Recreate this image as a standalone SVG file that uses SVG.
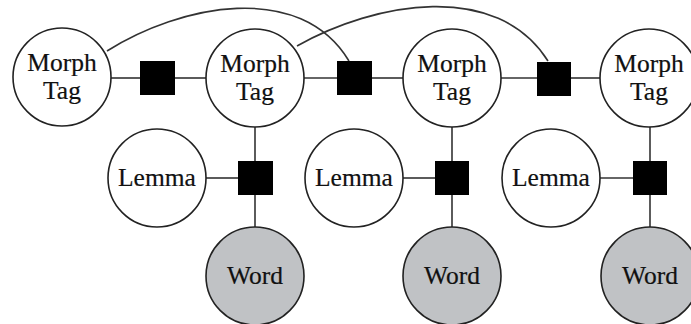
<svg xmlns="http://www.w3.org/2000/svg" width="691" height="324" viewBox="0 0 691 324">
  <style>
    .var { fill: #ffffff; stroke: #222; stroke-width: 1.6; }
    .obs { fill: #c0c2c5; stroke: #222; stroke-width: 1.6; }
    .fac { fill: #000; }
    .edge { fill: none; stroke: #333; stroke-width: 1.6; }
    text { font-family: "Liberation Serif", "Times New Roman", serif; font-size: 25.5px; fill: #111; text-anchor: middle; stroke: #111; stroke-width: 0.2; }
  </style>
  <rect width="691" height="324" fill="#fff"/>

  <!-- connectors -->
  <g id="edges">
    <!-- chain between tag variables -->
    <line class="edge" x1="111" y1="78" x2="140" y2="78"/>
    <line class="edge" x1="175" y1="78" x2="206" y2="78"/>
    <line class="edge" x1="304" y1="78" x2="337" y2="78"/>
    <line class="edge" x1="372" y1="78" x2="403" y2="78"/>
    <line class="edge" x1="501" y1="78" x2="537" y2="78"/>
    <line class="edge" x1="571" y1="78" x2="600" y2="78"/>
    <!-- second-order arcs -->
    <path class="edge" d="M107,51 C180,5 300,-20 349,61"/>
    <path class="edge" d="M297,46 C375,2 497,-20 548,61"/>
    <!-- column 1 -->
    <line class="edge" x1="255" y1="127" x2="255" y2="227"/>
    <line class="edge" x1="206" y1="178" x2="238" y2="178"/>
    <!-- column 2 -->
    <line class="edge" x1="452" y1="127" x2="452" y2="227"/>
    <line class="edge" x1="403" y1="178" x2="435" y2="178"/>
    <!-- column 3 -->
    <line class="edge" x1="650" y1="127" x2="650" y2="227"/>
    <line class="edge" x1="600" y1="178" x2="633" y2="178"/>
  </g>

  <!-- factors -->
  <g id="f-tag-1"><rect class="fac" x="140" y="61" width="35" height="34"/></g>
  <g id="f-tag-2"><rect class="fac" x="337" y="61" width="35" height="34"/></g>
  <g id="f-tag-3"><rect class="fac" x="537" y="62" width="34" height="34"/></g>
  <g id="f-word-1"><rect class="fac" x="238" y="161" width="35" height="34"/></g>
  <g id="f-word-2"><rect class="fac" x="435" y="161" width="34" height="34"/></g>
  <g id="f-word-3"><rect class="fac" x="633" y="161" width="34" height="34"/></g>

  <!-- tag variables -->
  <g id="tag-0">
    <circle class="var" cx="62" cy="77" r="49"/>
    <text x="62" y="71">Morph</text>
    <text x="62" y="99">Tag</text>
  </g>
  <g id="tag-1">
    <circle class="var" cx="255" cy="78" r="49"/>
    <text x="255" y="72">Morph</text>
    <text x="255" y="100">Tag</text>
  </g>
  <g id="tag-2">
    <circle class="var" cx="452" cy="78" r="49"/>
    <text x="452" y="72">Morph</text>
    <text x="452" y="100">Tag</text>
  </g>
  <g id="tag-3">
    <circle class="var" cx="649" cy="78" r="49"/>
    <text x="649" y="72">Morph</text>
    <text x="649" y="100">Tag</text>
  </g>

  <!-- lemma variables -->
  <g id="lemma-1">
    <circle class="var" cx="157" cy="178" r="49"/>
    <text x="157" y="186">Lemma</text>
  </g>
  <g id="lemma-2">
    <circle class="var" cx="354" cy="178" r="49"/>
    <text x="354" y="186">Lemma</text>
  </g>
  <g id="lemma-3">
    <circle class="var" cx="551" cy="178" r="49"/>
    <text x="551" y="186">Lemma</text>
  </g>

  <!-- observed words -->
  <g id="word-1">
    <circle class="obs" cx="255" cy="276" r="49"/>
    <text x="255" y="284">Word</text>
  </g>
  <g id="word-2">
    <circle class="obs" cx="452" cy="276" r="49"/>
    <text x="452" y="284">Word</text>
  </g>
  <g id="word-3">
    <circle class="obs" cx="650" cy="276" r="49"/>
    <text x="650" y="284">Word</text>
  </g>
</svg>
